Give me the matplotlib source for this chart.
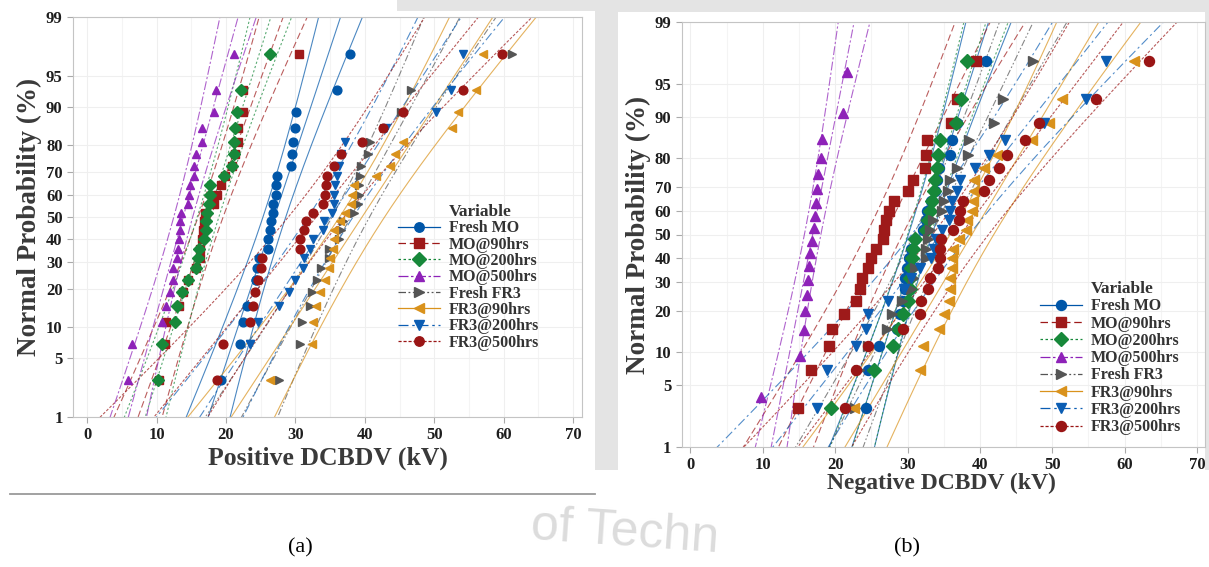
import math
import numpy as np
import pandas as pd
import matplotlib
matplotlib.use("Agg")
import matplotlib.pyplot as plt
from matplotlib.lines import Line2D
from matplotlib.patches import Rectangle
from matplotlib.ticker import MultipleLocator

# DC breakdown voltages in kV, 24 shots per sample (18 for MO@500hrs negative)
pos_fresh_mo = [19.3, 22.0, 22.4, 23.0, 24.3, 24.3, 24.4, 24.8, 26.0, 26.1, 26.4, 26.5,
                26.7, 26.8, 27.2, 27.25, 27.3, 29.3, 29.5, 29.6, 30.0, 30.05, 36.0, 37.9]
pos_mo_90 = [10.4, 11.2, 11.4, 13.2, 13.8, 14.5, 15.7, 16.2, 16.3, 16.5, 16.7, 16.8,
             17.0, 18.2, 18.7, 19.3, 19.8, 20.9, 21.25, 21.7, 21.75, 22.4, 22.45, 30.5]
pos_mo_200 = [10.2, 10.7, 12.6, 12.95, 13.7, 14.5, 15.6, 16.0, 16.1, 16.8, 17.1, 17.15,
              17.3, 17.55, 17.65, 17.7, 19.7, 20.8, 21.1, 21.2, 21.3, 21.6, 22.1, 26.3]
pos_mo_500 = [5.8, 6.5, 10.7, 11.4, 11.9, 12.3, 12.4, 12.9, 13.1, 13.2, 13.3, 13.4,
              13.45, 14.5, 14.7, 14.8, 15.35, 15.4, 15.6, 16.5, 16.55, 18.3, 18.6, 21.2]
pos_fresh_fr3 = [27.7, 30.6, 31.0, 32.1, 32.4, 33.1, 33.7, 34.8, 34.9, 36.3, 36.5, 36.8,
                 38.5, 39.0, 39.1, 39.2, 39.3, 39.4, 40.4, 40.7, 42.7, 45.2, 46.7, 61.2]
pos_fr3_90 = [26.3, 32.4, 32.6, 33.0, 33.5, 34.2, 34.9, 35.0, 35.4, 35.5, 35.6, 36.4,
              37.1, 38.0, 38.1, 38.5, 41.6, 43.6, 44.3, 45.5, 52.6, 53.4, 56.0, 57.0]
pos_fr3_200 = [23.5, 23.5, 24.6, 27.7, 29.1, 29.9, 31.1, 31.3, 32.1, 32.6, 33.9, 34.1,
               35.3, 35.55, 35.6, 35.65, 36.0, 36.3, 36.6, 37.1, 43.1, 50.3, 52.4, 54.1]
pos_fr3_500 = [18.7, 19.5, 23.5, 23.9, 24.2, 24.6, 25.1, 25.2, 30.65, 30.7, 31.2, 31.5,
               32.5, 33.9, 34.3, 34.4, 34.5, 35.5, 36.6, 39.6, 42.6, 45.5, 54.1, 59.7]

neg_fresh_mo = [24.2, 24.5, 26.0, 28.5, 28.9, 29.4, 29.6, 29.7, 29.9, 30.2, 30.5, 31.0,
                32.1, 32.6, 32.65, 33.3, 33.75, 34.1, 34.3, 35.8, 36.1, 36.8, 37.3, 40.9]
neg_mo_90 = [14.8, 16.6, 19.2, 19.5, 21.25, 22.9, 23.4, 23.7, 24.5, 24.95, 25.7, 26.6,
             26.7, 27.0, 27.5, 28.2, 30.0, 30.7, 32.4, 32.6, 32.7, 36.0, 36.8, 39.5]
neg_mo_200 = [19.4, 25.4, 28.0, 28.65, 29.4, 30.1, 30.3, 30.4, 30.5, 30.65, 30.75, 31.0,
              32.5, 32.8, 33.05, 33.4, 33.6, 33.75, 34.1, 34.2, 34.45, 36.7, 37.45, 38.15]
neg_mo_500 = [9.7, 15.1, 15.7, 15.8, 16.1, 16.25, 16.4, 16.5, 16.8, 17.1, 17.15, 17.4,
              17.5, 17.7, 18.0, 18.15, 21.1, 21.6]
neg_fresh_fr3 = [22.7, 23.3, 24.6, 27.15, 27.9, 29.3, 30.5, 30.8, 31.0, 32.5, 32.6, 32.8,
                 33.05, 33.5, 34.7, 35.1, 35.6, 35.8, 36.8, 38.3, 38.5, 42.0, 43.2, 47.3]
neg_fr3_90 = [22.6, 31.7, 32.1, 34.4, 35.0, 35.7, 35.8, 35.85, 36.1, 36.15, 36.3, 37.1,
              38.05, 38.15, 38.85, 39.1, 39.15, 39.2, 40.55, 42.4, 47.2, 49.5, 51.3, 61.3]
neg_fr3_200 = [17.5, 18.9, 22.9, 24.2, 24.5, 27.3, 29.5, 30.5, 31.7, 33.3, 33.6, 34.0,
               34.7, 35.7, 35.9, 36.1, 36.8, 37.2, 39.3, 41.2, 43.5, 48.9, 54.6, 57.4]
neg_fr3_500 = [21.4, 22.9, 24.5, 29.4, 31.7, 31.8, 32.8, 33.15, 34.2, 34.45, 34.55, 34.6,
               36.3, 37.1, 37.2, 37.6, 40.55, 41.2, 42.7, 43.7, 46.25, 48.2, 56.1, 63.4]

labels = ["Fresh MO", "MO@90hrs", "MO@200hrs", "MO@500hrs",
          "Fresh FR3", "FR3@90hrs", "FR3@200hrs", "FR3@500hrs"]
colors = ["#0056A8", "#9E1A1A", "#17883A", "#8E22B8",
          "#555555", "#D9921C", "#0B5DB3", "#9A1515"]
markers = ["o", "s", "D", "^", ">", "<", "v", "o"]
styles = ["-", (0, (6, 3)), (0, (2, 2)), (0, (8, 2, 2, 2)),
          (0, (6, 2, 1.5, 2, 1.5, 2)), "-", (0, (8, 3, 2, 3)), (0, (2.5, 1.5))]

prob_ticks = [1, 5, 10, 20, 30, 40, 50, 60, 70, 80, 90, 95, 99]
kv_ticks = [0, 10, 20, 30, 40, 50, 60, 70]

W, H = 1209, 567
SERIF = ["Liberation Serif", "DejaVu Serif"]
plt.rcParams["font.family"] = SERIF


def norm_ppf(p):
    # Acklam's rational approximation of the inverse normal CDF
    a = [-3.969683028665376e+01, 2.209460984245205e+02, -2.759285104469687e+02,
         1.383577518672690e+02, -3.066479806614716e+01, 2.506628277459239e+00]
    b = [-5.447609879822406e+01, 1.615858368580409e+02, -1.556989798598866e+02,
         6.680131188771972e+01, -1.328068155288572e+01]
    c = [-7.784894002430293e-03, -3.223964580411365e-01, -2.400758277161838e+00,
         -2.549732539343734e+00, 4.374664141464968e+00, 2.938163982698783e+00]
    d = [7.784695709041462e-03, 3.224671290700398e-01, 2.445134137142996e+00,
         3.754408661907416e+00]
    p = np.asarray(p, dtype=float)
    shape = p.shape
    p = np.atleast_1d(p).ravel()
    z = np.empty_like(p)
    plow = 0.02425
    lo = p < plow
    hi = p > 1 - plow
    mid = ~(lo | hi)
    q = np.sqrt(-2 * np.log(p[lo]))
    z[lo] = ((((((c[0]*q + c[1])*q + c[2])*q + c[3])*q + c[4])*q + c[5]) /
             ((((d[0]*q + d[1])*q + d[2])*q + d[3])*q + 1))
    q = p[mid] - 0.5
    r = q * q
    z[mid] = ((((((a[0]*r + a[1])*r + a[2])*r + a[3])*r + a[4])*r + a[5])*q /
              (((((b[0]*r + b[1])*r + b[2])*r + b[3])*r + b[4])*r + 1))
    q = np.sqrt(-2 * np.log(1 - p[hi]))
    z[hi] = -((((((c[0]*q + c[1])*q + c[2])*q + c[3])*q + c[4])*q + c[5]) /
              ((((d[0]*q + d[1])*q + d[2])*q + d[3])*q + 1))
    return z.reshape(shape)


_erf = np.vectorize(math.erf)


def norm_cdf(z):
    return 0.5 * (1 + _erf(np.asarray(z, dtype=float) / math.sqrt(2)))


def prob_fwd(pct):
    pct = np.clip(np.asarray(pct, dtype=float), 1e-6, 100 - 1e-6)
    return norm_ppf(pct / 100.0)


def prob_inv(z):
    return 100.0 * norm_cdf(z)


def px_rect(x0, y0, x1, y1):
    # pixel box (top-left origin) -> figure fraction [left, bottom, width, height]
    return [x0 / W, 1 - y1 / H, (x1 - x0) / W, (y1 - y0) / H]


def draw_panel(ax, series, xlim, ms):
    ax.set_yscale("function", functions=(prob_fwd, prob_inv))
    z = np.linspace(-3.2, 3.2, 161)
    zpct = prob_inv(z)
    for vals, color, marker, ls in zip(series, colors, markers, styles):
        v = np.asarray(vals, dtype=float)
        n = len(v)
        rank = pd.Series(v).rank(method="max").to_numpy()
        pct = (rank - 0.3) / (n + 0.4) * 100
        mu, sd = v.mean(), v.std(ddof=1)
        fit = mu + z * sd
        half = 1.96 * sd * np.sqrt((1 + z ** 2 / 2) / n)
        for xs in (fit, fit - half, fit + half):
            ax.plot(xs, zpct, color=color, ls=ls, lw=0.8, alpha=0.7, zorder=2)
        ax.plot(v, pct, ls="none", marker=marker, color=color, mec=color,
                ms=ms, zorder=3)

    ax.set_xlim(*xlim)
    ax.set_ylim(1, 99)
    ax.set_xticks(kv_ticks)
    ax.xaxis.set_minor_locator(MultipleLocator(5))
    ax.set_yticks(prob_ticks)
    ax.set_yticklabels([str(t) for t in prob_ticks])
    ax.yaxis.set_minor_locator(plt.NullLocator())
    ax.grid(True, which="major", color="#EFEFEF", lw=0.8)
    ax.grid(True, which="minor", axis="x", color="#F4F4F4", lw=0.8)
    ax.set_axisbelow(True)
    for s in ax.spines.values():
        s.set_color("#C4C4C4")
    ax.tick_params(axis="both", which="major", length=4, color="#AAAAAA",
                   labelsize=12, labelcolor="#1E1E1E")
    ax.tick_params(axis="x", which="minor", length=0)
    for lab in ax.get_xticklabels() + ax.get_yticklabels():
        lab.set_fontweight("bold")


def add_legend(ax, anchor, ms, spacing):
    handles = [Line2D([], [], ls="none", marker="")]
    for color, marker, ls in zip(colors, markers, styles):
        handles.append(Line2D([], [], color=color, ls=ls, lw=0.9, marker=marker,
                              ms=ms, mec=color))
    leg = ax.legend(handles, ["Variable"] + labels, loc="upper left",
                    bbox_to_anchor=anchor, frameon=False, borderpad=0,
                    borderaxespad=0, handlelength=2.6, handletextpad=0.6,
                    labelspacing=spacing, prop={"family": SERIF, "weight": "bold",
                                                "size": 11.5})
    for t in leg.get_texts():
        t.set_color("#333333")
    leg.get_texts()[0].set_fontsize(12.5)
    return leg


fig = plt.figure(figsize=(W / 100, H / 100), dpi=100)
fig.patch.set_facecolor("white")

# light grey page around the right-hand graph
shade = "#E4E4E4"
fig.add_artist(Rectangle((595 / W, 1 - 470 / H), (W - 595) / W, 470 / H,
                         transform=fig.transFigure, color=shade, lw=0, zorder=-2))
fig.add_artist(Rectangle((397 / W, 1 - 11 / H), (W - 397) / W, 11 / H,
                         transform=fig.transFigure, color=shade, lw=0, zorder=-2))
fig.add_artist(Rectangle((618 / W, 1 - 505 / H), (1205 - 618) / W, (505 - 12) / H,
                         transform=fig.transFigure, color="white", lw=0, zorder=-1))

# faint watermark across the bottom
fig.text(625 / W, 1 - 533 / H, "of Techn", fontsize=36, color="#DCDCDC",
         family=["Liberation Sans Narrow", "Liberation Sans", "DejaVu Sans"],
         rotation=-4, ha="center", va="center", zorder=-1)

# rule under panel (a)
fig.add_artist(Line2D([10 / W, 595 / W], [1 - 494 / H, 1 - 494 / H],
                      transform=fig.transFigure, color="#9A9A9A", lw=1.3))

pos_series = [pos_fresh_mo, pos_mo_90, pos_mo_200, pos_mo_500,
              pos_fresh_fr3, pos_fr3_90, pos_fr3_200, pos_fr3_500]
neg_series = [neg_fresh_mo, neg_mo_90, neg_mo_200, neg_mo_500,
              neg_fresh_fr3, neg_fr3_90, neg_fr3_200, neg_fr3_500]

ax1 = fig.add_axes(px_rect(73, 17, 582, 417))
draw_panel(ax1, pos_series, (-2.06, 71.3), 6.3)
add_legend(ax1, ((398 - 73) / 509, (417 - 204) / 400), 6.8, 0.02)
ax1.set_xlabel("Positive DCBDV (kV)", fontsize=18.5, fontweight="bold", color="#3A3A3A")
ax1.xaxis.set_label_coords(0.5, -0.075)
ax1.set_ylabel("Normal Probability (%)", fontsize=19.5, fontweight="bold", color="#3A3A3A")
ax1.yaxis.set_label_coords(-0.06, 0.5)

ax2 = fig.add_axes(px_rect(681.7, 22, 1205, 447))
draw_panel(ax2, neg_series, (-1.2, 71.1), 7.2)
add_legend(ax2, ((1040 - 681.7) / 523.3, (447 - 281) / 425), 7.2, 0.08)
ax2.set_xlabel("Negative DCBDV (kV)", fontsize=17, fontweight="bold", color="#3A3A3A")
ax2.xaxis.set_label_coords(0.4955, -0.06)
ax2.set_ylabel("Normal Probability (%)", fontsize=19.5, fontweight="bold", color="#3A3A3A")
ax2.yaxis.set_label_coords(-0.058, 0.5)

fig.text(300 / W, 1 - 548 / H, "(a)", fontsize=16, ha="center", va="center")
fig.text(907 / W, 1 - 548 / H, "(b)", fontsize=16, ha="center", va="center")

fig.savefig("out.png", dpi=100)
